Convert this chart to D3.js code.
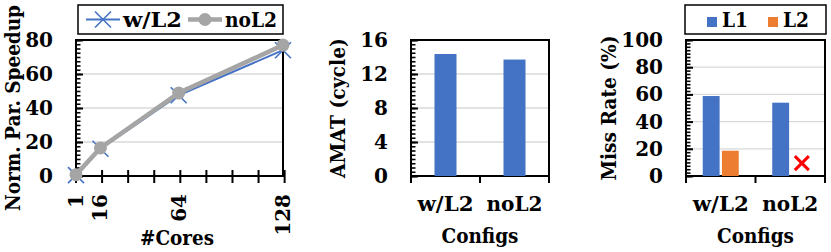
<!DOCTYPE html>
<html>
<head>
<meta charset="utf-8">
<script src="https://cdn.jsdelivr.net/npm/d3@7"></script>
<style>
  body { margin: 0; background: #fff; }
  svg text { font-family: "DejaVu Serif", serif; font-weight: bold; fill: #000; }
</style>
</head>
<body>
<div id="chart"><svg></svg></div>
<script>
// speedup panel
const cores = [1, 16, 64, 128];
const speedupWithL2 = [0.5, 16, 47.5, 74];
const speedupNoL2 = [0.8, 16.5, 48.8, 77];
const speedupTicks = [0, 20, 40, 60, 80];

// AMAT panel
const configs = ["w/L2", "noL2"];
const amat = [14.35, 13.7];
const amatTicks = [0, 4, 8, 12, 16];

// miss rate panel
const levels = ["L1", "L2"];
const missL1 = [58.8, 53.9];
const missL2 = [18.6, null]; // no L2 in noL2 -> red cross
const missTicks = [0, 20, 40, 60, 80, 100];

const BLUE = "#4472C4";
const GRAY = "#A5A5A5";
const ORANGE = "#ED7D31";
const GRID = "#D9D9D9";
const FS = 20;

const width = 831;
const height = 252;
const svg = d3.select("#chart").select("svg")
  .attr("width", width)
  .attr("height", height);

const plotTop = 40, plotBottom = 176;

// left axis with inside major + minor ticks, gridlines, frame
function frame(g, x0, x1, y, ticks, minorStep) {
  const [lo, hi] = y.domain();
  g.append("g")
    .selectAll("line")
    .data(ticks.filter(t => t > lo && t < hi))
    .join("line")
    .attr("x1", x0).attr("x2", x1)
    .attr("y1", d => y(d)).attr("y2", d => y(d))
    .attr("stroke", GRID).attr("stroke-width", 1.3);

  const minor = d3.range(lo, hi + 1e-9, minorStep);
  g.append("g")
    .attr("transform", `translate(${x0},0)`)
    .call(d3.axisLeft(y).tickValues(minor).tickSize(-4.5).tickFormat(""))
    .call(a => a.select(".domain").remove())
    .selectAll("line").attr("stroke-width", 1.6);

  const ax = g.append("g")
    .attr("transform", `translate(${x0},0)`)
    .call(d3.axisLeft(y).tickValues(ticks).tickSize(-7).tickPadding(23));
  ax.select(".domain").remove();
  ax.selectAll("line").attr("stroke-width", 2);
  ax.selectAll("text").attr("font-size", FS).attr("font-family", null);

  g.append("rect")
    .attr("x", x0).attr("y", plotTop)
    .attr("width", x1 - x0).attr("height", plotBottom - plotTop)
    .attr("fill", "none").attr("stroke", "#000").attr("stroke-width", 2);
}

// squeeze a text to the width it has in the reference
function fit(sel, len) {
  return sel.attr("textLength", len).attr("lengthAdjust", "spacingAndGlyphs");
}

function yTitle(g, x, label, len) {
  g.append("text")
    .attr("transform", `translate(${x},${(plotTop + plotBottom) / 2}) rotate(-90)`)
    .attr("text-anchor", "middle")
    .attr("font-size", FS)
    .text(label)
    .call(fit, len);
}

// ---------- panel 1: speedup ----------
{
  const g = svg.append("g");
  const x = d3.scaleLinear().domain([1, 128]).range([76, 283]);
  const y = d3.scaleLinear().domain([0, 80]).range([plotBottom, plotTop]);

  frame(g, 76, 283, y, speedupTicks, 2.5);

  // cross ticks on x axis
  g.append("g")
    .selectAll("line")
    .data(d3.range(1, 130, 16))
    .join("line")
    .attr("x1", d => x(d)).attr("x2", d => x(d))
    .attr("y1", plotBottom - 6).attr("y2", plotBottom + 7)
    .attr("stroke", "#000").attr("stroke-width", 2);

  g.append("g")
    .selectAll("text")
    .data(cores)
    .join("text")
    .attr("transform", d => `translate(${x(d)},194) rotate(-90)`)
    .attr("text-anchor", "end")
    .attr("dy", "0.35em")
    .attr("font-size", FS)
    .text(d => d);

  const line = d3.line().x((d, i) => x(cores[i])).y(d => y(d));

  g.append("path").datum(speedupWithL2)
    .attr("d", line).attr("fill", "none")
    .attr("stroke", BLUE).attr("stroke-width", 2);
  g.append("g")
    .selectAll("path")
    .data(speedupWithL2)
    .join("path")
    .attr("d", (d, i) => {
      const cx = x(cores[i]), cy = y(d), s = 8;
      return `M${cx - s},${cy - s}L${cx + s},${cy + s}M${cx - s},${cy + s}L${cx + s},${cy - s}`;
    })
    .attr("stroke", BLUE).attr("stroke-width", 1.6);

  g.append("path").datum(speedupNoL2)
    .attr("d", line).attr("fill", "none")
    .attr("stroke", GRAY).attr("stroke-width", 4.5);
  g.append("g")
    .selectAll("circle")
    .data(speedupNoL2)
    .join("circle")
    .attr("cx", (d, i) => x(cores[i])).attr("cy", d => y(d))
    .attr("r", 6.5).attr("fill", GRAY);

  yTitle(g, 20, "Norm. Par. Speedup", 206);
  g.append("text")
    .attr("x", 177).attr("y", 245)
    .attr("text-anchor", "middle").attr("font-size", FS)
    .text("#Cores")
    .call(fit, 74);

  // legend
  const lg = g.append("g");
  lg.append("rect").attr("x", 78).attr("y", 5).attr("width", 205).attr("height", 29)
    .attr("fill", "#fff").attr("stroke", "#000").attr("stroke-width", 1.5);
  lg.append("line").attr("x1", 86).attr("x2", 120).attr("y1", 19.5).attr("y2", 19.5)
    .attr("stroke", BLUE).attr("stroke-width", 2);
  lg.append("path").attr("d", "M95,11.5L111,27.5M95,27.5L111,11.5")
    .attr("stroke", BLUE).attr("stroke-width", 1.6);
  lg.append("text").attr("x", 123).attr("y", 27).attr("font-size", FS).text("w/L2").call(fit, 59);
  lg.append("line").attr("x1", 188).attr("x2", 222).attr("y1", 19.5).attr("y2", 19.5)
    .attr("stroke", GRAY).attr("stroke-width", 4.5);
  lg.append("circle").attr("cx", 205).attr("cy", 19.5).attr("r", 6.5).attr("fill", GRAY);
  lg.append("text").attr("x", 225).attr("y", 27).attr("font-size", FS).text("noL2").call(fit, 52);
}

function categoryAxis(g, x, x0, x1) {
  const edges = [x0, ...configs.slice(1).map(c => x(c)), x1];
  g.append("g")
    .selectAll("line")
    .data(edges)
    .join("line")
    .attr("x1", d => d).attr("x2", d => d)
    .attr("y1", plotBottom).attr("y2", plotBottom + 7)
    .attr("stroke", "#000").attr("stroke-width", 2);
  g.append("g")
    .selectAll("text")
    .data(configs)
    .join("text")
    .attr("x", d => x(d) + x.bandwidth() / 2)
    .attr("y", 211)
    .attr("text-anchor", "middle").attr("font-size", FS)
    .text(d => d)
    .call(fit, 56);
  g.append("text")
    .attr("x", (x0 + x1) / 2).attr("y", 243)
    .attr("text-anchor", "middle").attr("font-size", FS)
    .text("Configs")
    .call(fit, 77);
}

// ---------- panel 2: AMAT ----------
{
  const g = svg.append("g");
  const x0 = 411, x1 = 549;
  const x = d3.scaleBand().domain(configs).range([x0, x1]);
  const y = d3.scaleLinear().domain([0, 16]).range([plotBottom, plotTop]);

  frame(g, x0, x1, y, amatTicks, 0.5);

  const bw = 22;
  g.append("g")
    .selectAll("rect")
    .data(amat)
    .join("rect")
    .attr("x", (d, i) => x(configs[i]) + x.bandwidth() / 2 - bw / 2)
    .attr("y", d => y(d))
    .attr("width", bw)
    .attr("height", d => y(0) - y(d))
    .attr("fill", BLUE);

  categoryAxis(g, x, x0, x1);
  yTitle(g, 345, "AMAT (cycle)", 140);
}

// ---------- panel 3: miss rate ----------
{
  const g = svg.append("g");
  const x0 = 686, x1 = 825;
  const x = d3.scaleBand().domain(configs).range([x0, x1]);
  const xi = d3.scaleBand().domain(levels).range([-18, 18]).paddingInner(0.12);
  const y = d3.scaleLinear().domain([0, 100]).range([plotBottom, plotTop]);

  frame(g, x0, x1, y, missTicks, 2.5);

  const color = d3.scaleOrdinal().domain(levels).range([BLUE, ORANGE]);
  const rows = configs.flatMap((c, i) => [
    { c, level: "L1", v: missL1[i] },
    { c, level: "L2", v: missL2[i] }
  ]);

  const cx = c => x(c) + x.bandwidth() / 2;

  g.append("g")
    .selectAll("rect")
    .data(rows.filter(r => r.v != null))
    .join("rect")
    .attr("x", r => cx(r.c) + xi(r.level))
    .attr("y", r => y(r.v))
    .attr("width", xi.bandwidth())
    .attr("height", r => y(0) - y(r.v))
    .attr("fill", r => color(r.level));

  // red cross where there is no L2
  g.append("g")
    .selectAll("path")
    .data(rows.filter(r => r.v == null))
    .join("path")
    .attr("d", r => {
      const px = cx(r.c) + xi(r.level) + xi.bandwidth() / 2 + 2, py = y(9.5), s = 7;
      return `M${px - s},${py - s}L${px + s},${py + s}M${px - s},${py + s}L${px + s},${py - s}`;
    })
    .attr("stroke", "#FF0000").attr("stroke-width", 3);

  categoryAxis(g, x, x0, x1);
  yTitle(g, 616, "Miss Rate (%)", 145);

  const lg = g.append("g");
  lg.append("rect").attr("x", 685).attr("y", 5).attr("width", 141).attr("height", 29)
    .attr("fill", "#fff").attr("stroke", "#000").attr("stroke-width", 1.5);
  levels.forEach((l, i) => {
    const lx = 707 + i * 61;
    lg.append("rect").attr("x", lx).attr("y", 17).attr("width", 10).attr("height", 10)
      .attr("fill", color(l));
    lg.append("text").attr("x", lx + 15).attr("y", 27).attr("font-size", FS).text(l)
      .call(fit, 26);
  });
}
</script>
</body>
</html>
